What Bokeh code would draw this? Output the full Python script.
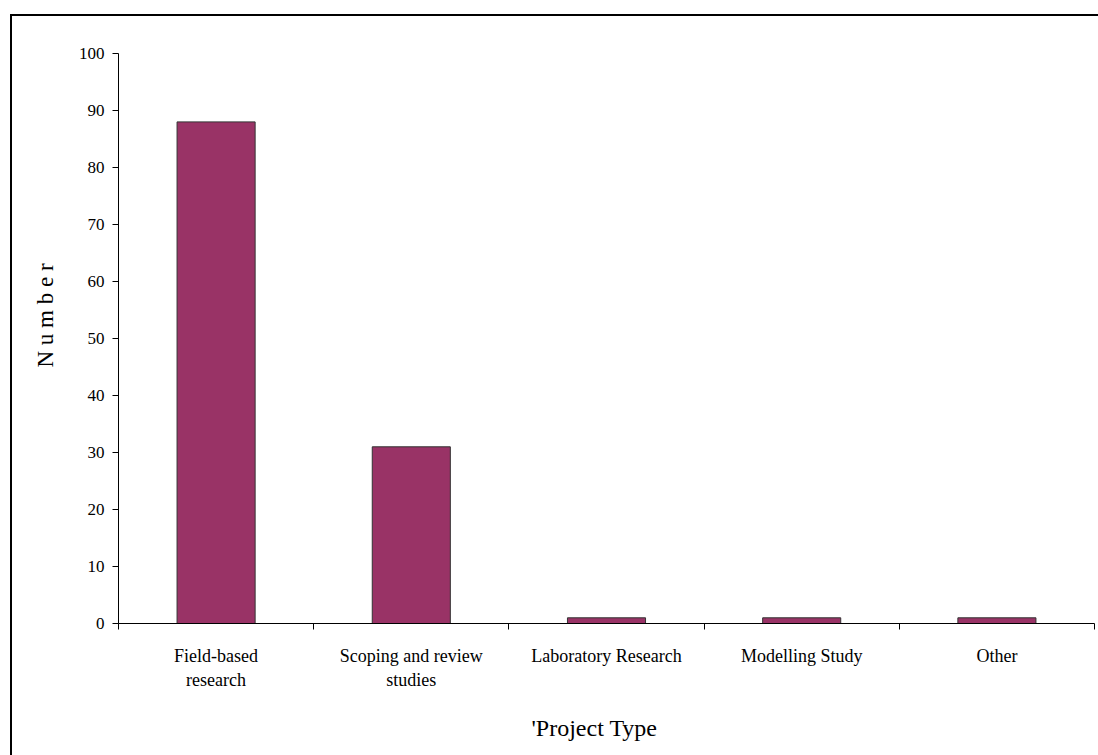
from bokeh.plotting import figure
from bokeh.models import Range1d, FixedTicker
from bokeh.embed import file_html
from bokeh.resources import INLINE

categories = ["Field-based research", "Scoping and review studies",
              "Laboratory Research", "Modelling Study", "Other"]
tick_labels = ["Field-based\nresearch", "Scoping and review\nstudies",
               "Laboratory Research", "Modelling Study", "Other"]
values = [88, 31, 1, 1, 1]
y_ticks = list(range(0, 101, 10))

n = len(categories)
xs = [2 * i + 1 for i in range(n)]
bounds = [2 * i for i in range(n + 1)]

FONT = "Liberation Serif"
NB = "\u00a0"

p = figure(width=1088, height=741,
           x_range=Range1d(0, 2 * n), y_range=Range1d(0, 100),
           output_backend="svg", toolbar_location=None,
           min_border_left=106, min_border_right=6,
           min_border_top=37, min_border_bottom=134)
p.margin = (14, 0, 0, 10)
p.styles = {"border-top": "2px solid black", "border-left": "2px solid black"}

p.vbar(x=xs, top=values, width=0.8, fill_color="#993366",
       line_color="#333333", line_width=1)

p.grid.visible = False
p.outline_line_color = None
p.background_fill_color = "white"
p.border_fill_color = "white"

xa = p.xaxis[0]
xa.ticker = FixedTicker(ticks=xs, minor_ticks=bounds)
xa.major_label_overrides = {x: t for x, t in zip(xs, tick_labels)}
xa.major_tick_out = 0
xa.major_tick_in = 0
xa.minor_tick_out = 6
xa.minor_tick_in = 0
xa.minor_tick_line_color = "black"
xa.axis_line_color = "black"
xa.major_label_text_font = FONT
xa.major_label_text_font_size = "18px"
xa.major_label_text_color = "black"
xa.major_label_standoff = 16
xa.axis_label = "'Project Type" + NB * 4
xa.axis_label_text_font = FONT
xa.axis_label_text_font_size = "24px"
xa.axis_label_text_font_style = "normal"
xa.axis_label_text_color = "black"
xa.axis_label_standoff = 22

ya = p.yaxis[0]
ya.ticker = FixedTicker(ticks=y_ticks)
ya.major_tick_out = 6
ya.major_tick_in = 0
ya.minor_tick_line_color = None
ya.axis_line_color = "black"
ya.major_tick_line_color = "black"
ya.major_label_text_font = FONT
ya.major_label_text_font_size = "17px"
ya.major_label_text_color = "black"
ya.major_label_standoff = 8
ya.axis_label = NB * 8 + "N u m b e r"
ya.axis_label_text_font = FONT
ya.axis_label_text_font_size = "23px"
ya.axis_label_text_font_style = "normal"
ya.axis_label_text_color = "black"
ya.axis_label_standoff = 18

open("out.html", "w").write(file_html(p, INLINE))
